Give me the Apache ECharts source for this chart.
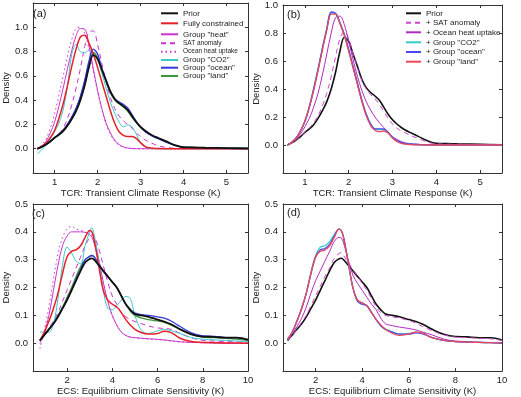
<!DOCTYPE html>
<html><head><meta charset="utf-8">
<script src="https://cdn.jsdelivr.net/npm/echarts@6/dist/echarts.min.js"></script>
<style>html,body{margin:0;padding:0;background:#fff}#c{width:521px;height:397px}</style>
</head><body><div id="c"></div>
<script>
// ---------- DATA ----------
const xT = [0.6,0.7,0.8,0.9,1.0,1.1,1.2,1.3,1.4,1.5,1.6,1.7,1.8,1.9,2.0,2.1,2.2,2.3,2.4,2.5,2.6,2.7,2.8,2.9,3.0,3.1,3.2,3.3,3.4,3.6,3.8,4.0,4.25,4.5,5.0,5.5];
const tcrPrior   = [0.0,0.015,0.035,0.06,0.09,0.115,0.145,0.19,0.245,0.31,0.40,0.52,0.67,0.77,0.74,0.65,0.56,0.47,0.41,0.375,0.35,0.32,0.27,0.22,0.18,0.15,0.125,0.105,0.09,0.06,0.03,0.012,0.01,0.008,0.005,0.002];
const tcrFull    = [0.0,0.02,0.045,0.09,0.15,0.25,0.37,0.52,0.68,0.82,0.92,0.935,0.87,0.78,0.67,0.55,0.43,0.31,0.21,0.14,0.11,0.10,0.10,0.085,0.05,0.02,0.008,0.003,0.001,0,0,0,0,0,0,0];
const tcrHeat    = [0.0,0.02,0.06,0.13,0.22,0.35,0.50,0.66,0.81,0.93,0.99,0.985,0.85,0.66,0.48,0.33,0.21,0.13,0.07,0.035,0.015,0.006,0.002,0,0,0,0,0,0,0,0,0,0,0,0,0];
const tcrSAT     = [0.0,0.012,0.03,0.055,0.085,0.12,0.17,0.25,0.36,0.50,0.66,0.84,0.96,0.97,0.86,0.70,0.55,0.42,0.33,0.27,0.23,0.20,0.17,0.13,0.10,0.075,0.055,0.04,0.025,0.01,0.004,0.002,0,0,0,0];
const tcrOHU     = [-0.01,0.03,0.08,0.17,0.29,0.44,0.60,0.76,0.90,0.99,1.0,0.95,0.82,0.64,0.47,0.32,0.20,0.12,0.06,0.03,0.012,0.004,0,0,0,0,0,0,0,0,0,0,0,0,0,0];
const tcrCO2     = [-0.04,-0.01,0.03,0.08,0.14,0.21,0.32,0.52,0.78,0.86,0.80,0.79,0.81,0.80,0.73,0.62,0.50,0.38,0.29,0.22,0.18,0.195,0.18,0.12,0.05,0.015,0.004,0,0,0,0,0,0,0,0,0];
const tcrOcean   = [0.0,0.015,0.035,0.06,0.09,0.12,0.15,0.2,0.26,0.33,0.43,0.56,0.72,0.82,0.78,0.66,0.56,0.47,0.41,0.385,0.365,0.335,0.28,0.225,0.18,0.145,0.12,0.1,0.085,0.055,0.028,0.011,0.009,0.007,0.004,0.002];
const tcrLand    = [0.0,0.015,0.035,0.06,0.09,0.12,0.155,0.2,0.26,0.33,0.42,0.55,0.70,0.79,0.75,0.65,0.55,0.46,0.40,0.37,0.345,0.31,0.26,0.215,0.175,0.145,0.12,0.1,0.085,0.055,0.028,0.011,0.009,0.007,0.004,0.002];
// panel (b): cumulative constraints
const tcrPlusSAT = [0.0,0.015,0.035,0.06,0.09,0.12,0.16,0.21,0.28,0.37,0.49,0.63,0.76,0.81,0.76,0.65,0.55,0.46,0.40,0.36,0.33,0.29,0.24,0.19,0.15,0.12,0.10,0.085,0.07,0.045,0.02,0.008,0.006,0.005,0.003,0.001];
const tcrPlusOHU = [0.0,0.02,0.045,0.08,0.13,0.19,0.27,0.37,0.50,0.65,0.80,0.91,0.92,0.86,0.74,0.61,0.49,0.39,0.31,0.25,0.20,0.16,0.125,0.09,0.06,0.04,0.025,0.015,0.01,0.005,0.002,0,0,0,0,0];
const tcrPlusCO2 = [0.0,0.02,0.05,0.10,0.17,0.27,0.40,0.54,0.69,0.83,0.945,0.94,0.875,0.79,0.68,0.56,0.44,0.32,0.22,0.15,0.115,0.11,0.11,0.09,0.055,0.03,0.018,0.01,0.006,0.003,0.001,0,0,0,0,0];
const tcrPlusOcn = [0.0,0.02,0.05,0.10,0.17,0.27,0.40,0.54,0.69,0.83,0.95,0.94,0.87,0.79,0.68,0.56,0.44,0.32,0.22,0.15,0.115,0.115,0.115,0.09,0.055,0.03,0.018,0.01,0.006,0.003,0.001,0,0,0,0,0];
const tcrPlusLnd = [0.0,0.02,0.05,0.10,0.17,0.27,0.39,0.53,0.68,0.82,0.935,0.935,0.87,0.78,0.67,0.55,0.43,0.31,0.21,0.14,0.105,0.095,0.10,0.085,0.05,0.025,0.012,0.006,0.003,0.001,0,0,0,0,0,0];

const xE = [0.8,1.0,1.2,1.4,1.6,1.8,2.0,2.2,2.4,2.6,2.8,3.0,3.1,3.2,3.4,3.6,3.8,4.0,4.2,4.4,4.6,4.8,5.0,5.3,5.6,6.0,6.3,6.6,7.0,7.5,8.0,8.5,9.0,9.5,10.0];
const ecsPrior   = [0.01,0.03,0.05,0.07,0.095,0.125,0.155,0.19,0.225,0.26,0.29,0.303,0.305,0.30,0.28,0.26,0.24,0.22,0.20,0.17,0.14,0.12,0.105,0.10,0.095,0.085,0.078,0.068,0.05,0.032,0.024,0.023,0.02,0.02,0.012];
const ecsFull    = [0.01,0.04,0.08,0.125,0.18,0.25,0.31,0.33,0.335,0.35,0.38,0.405,0.40,0.37,0.28,0.19,0.155,0.14,0.13,0.11,0.085,0.065,0.05,0.038,0.033,0.035,0.043,0.038,0.018,0.006,0.003,0.002,0.001,0.001,0.0];
const ecsHeat    = [0.0,0.04,0.10,0.19,0.28,0.35,0.385,0.40,0.40,0.40,0.398,0.39,0.38,0.36,0.30,0.22,0.15,0.10,0.065,0.04,0.028,0.022,0.02,0.018,0.016,0.014,0.012,0.009,0.005,0.003,0.002,0.001,0,0,0];
const ecsSAT     = [0.01,0.03,0.055,0.08,0.11,0.15,0.19,0.23,0.27,0.31,0.35,0.38,0.39,0.385,0.34,0.28,0.22,0.17,0.14,0.11,0.095,0.085,0.078,0.07,0.062,0.055,0.053,0.05,0.035,0.02,0.01,0.008,0.006,0.005,0.004];
const ecsOHU     = [-0.02,0.05,0.13,0.23,0.32,0.38,0.41,0.42,0.41,0.405,0.40,0.39,0.38,0.36,0.30,0.22,0.15,0.10,0.065,0.04,0.028,0.022,0.02,0.017,0.015,0.013,0.011,0.008,0.005,0.003,0.002,0.001,0,0,0];
const ecsCO2     = [0.04,0.04,0.04,0.07,0.16,0.28,0.345,0.325,0.295,0.285,0.35,0.40,0.415,0.39,0.30,0.19,0.125,0.12,0.135,0.155,0.168,0.16,0.10,0.045,0.035,0.045,0.05,0.045,0.035,0.02,0.015,0.012,0.01,0.008,0.006];
const ecsOcean   = [0.01,0.03,0.05,0.07,0.095,0.125,0.155,0.19,0.23,0.265,0.30,0.312,0.315,0.31,0.285,0.26,0.24,0.22,0.20,0.17,0.14,0.12,0.108,0.103,0.10,0.095,0.09,0.08,0.06,0.037,0.026,0.025,0.02,0.02,0.014];
const ecsLand    = [0.01,0.03,0.05,0.072,0.10,0.13,0.165,0.20,0.24,0.275,0.30,0.312,0.315,0.31,0.285,0.26,0.24,0.22,0.20,0.17,0.14,0.115,0.10,0.09,0.085,0.08,0.075,0.065,0.05,0.032,0.022,0.02,0.018,0.015,0.01];
// panel (d): cumulative constraints
const ecsPlusSAT = [0.01,0.03,0.05,0.075,0.10,0.135,0.17,0.205,0.24,0.27,0.305,0.322,0.325,0.315,0.29,0.265,0.24,0.215,0.19,0.16,0.13,0.11,0.10,0.095,0.09,0.082,0.072,0.06,0.045,0.03,0.022,0.02,0.018,0.016,0.01];
const ecsPlusOHU = [0.01,0.035,0.06,0.09,0.13,0.18,0.225,0.26,0.295,0.33,0.365,0.38,0.378,0.36,0.30,0.245,0.215,0.19,0.165,0.14,0.12,0.09,0.07,0.063,0.058,0.053,0.048,0.04,0.03,0.015,0.008,0.006,0.004,0.003,0.002];
const ecsPlusCO2 = [0.015,0.04,0.08,0.125,0.18,0.255,0.315,0.345,0.35,0.365,0.39,0.41,0.405,0.38,0.29,0.20,0.155,0.145,0.135,0.11,0.085,0.065,0.05,0.04,0.033,0.035,0.04,0.036,0.02,0.01,0.006,0.004,0.003,0.002,0.001];
const ecsPlusOcn = [0.015,0.04,0.08,0.125,0.18,0.25,0.31,0.335,0.34,0.355,0.385,0.41,0.405,0.38,0.29,0.20,0.15,0.14,0.135,0.11,0.085,0.062,0.05,0.04,0.033,0.033,0.037,0.034,0.02,0.01,0.006,0.004,0.003,0.002,0.001];
const ecsPlusLnd = [0.015,0.04,0.08,0.125,0.18,0.25,0.31,0.33,0.335,0.35,0.38,0.41,0.405,0.38,0.29,0.20,0.155,0.145,0.135,0.11,0.085,0.065,0.05,0.035,0.028,0.033,0.04,0.036,0.02,0.01,0.006,0.004,0.003,0.002,0.001];

const tcrTicks = [1,2,3,4,5];
const ecsTicks = [2,4,6,8,10];
const panelLabels = ['(a)','(b)','(c)','(d)'];
const tcrTitle = 'TCR: Transient Climate Response (K)';
const ecsTitle = 'ECS: Equilibrium Climate Sensitivity (K)';
const yName = 'Density';

// ---------- CHART ----------
const FONT = 'Liberation Sans, Arial, Helvetica, sans-serif';
const AX = '#333';
const pairs = (xs, ys) => xs.map((x, i) => [x, ys[i]]);

const grids = [
  {left: 30, top: 3, right: 273, bottom: 224},
  {left: 283, top: 3, right: 19, bottom: 224},
  {left: 30, top: 204, right: 273, bottom: 24},
  {left: 283, top: 204, right: 19, bottom: 24}
];
const xCfg = [
  {min: 0.5, max: 5.5, ticks: tcrTicks, title: tcrTitle},
  {min: 0.5, max: 5.5, ticks: tcrTicks, title: tcrTitle},
  {min: 0.5, max: 10, ticks: ecsTicks, title: ecsTitle},
  {min: 0.6, max: 10, ticks: ecsTicks, title: ecsTitle}
];
const yCfg = [
  {min: -0.2, max: 1.2, interval: 0.2, top: 1.0},
  {min: -0.2, max: 1.0, interval: 0.2, top: 1.0},
  {min: -0.1, max: 0.5, interval: 0.1, top: 0.5},
  {min: -0.1, max: 0.5, interval: 0.1, top: 0.5}
];

const xAxis = [], yAxis = [];
grids.forEach((g, i) => {
  const xc = xCfg[i], yc = yCfg[i];
  xAxis.push({
    type: 'value', gridIndex: i, position: 'bottom', min: xc.min, max: xc.max,
    axisLine: {show: true, onZero: false, lineStyle: {color: AX, width: 1}},
    axisTick: {show: true, inside: true, length: 3, customValues: xc.ticks, lineStyle: {color: AX}},
    axisLabel: {customValues: xc.ticks, color: '#222', fontSize: 9.5, fontFamily: FONT, margin: 4},
    splitLine: {show: false},
    name: xc.title, nameLocation: 'middle', nameGap: 13,
    nameTextStyle: {color: '#222', fontSize: 9.5, fontFamily: FONT, verticalAlign: 'top'}
  });
  xAxis.push({
    type: 'value', gridIndex: i, position: 'top', min: xc.min, max: xc.max,
    axisLine: {show: true, onZero: false, lineStyle: {color: AX, width: 1}},
    axisTick: {show: true, inside: true, length: 3, customValues: xc.ticks, lineStyle: {color: AX}},
    axisLabel: {show: false}, splitLine: {show: false}
  });
  yAxis.push({
    type: 'value', gridIndex: i, position: 'left', min: yc.min, max: yc.max, interval: yc.interval,
    axisLine: {show: true, onZero: false, lineStyle: {color: AX, width: 1}},
    axisTick: {show: true, inside: true, length: 3, lineStyle: {color: AX}},
    axisLabel: {color: '#222', fontSize: 9.5, fontFamily: FONT, margin: 5,
      formatter: v => (v < -1e-9 || v > yc.top + 1e-9) ? '' : v.toFixed(1)},
    splitLine: {show: false},
    name: yName, nameLocation: 'middle', nameGap: 20,
    nameTextStyle: {color: '#222', fontSize: 9.5, fontFamily: FONT}
  });
  yAxis.push({
    type: 'value', gridIndex: i, position: 'right', min: yc.min, max: yc.max, interval: yc.interval,
    axisLine: {show: true, onZero: false, lineStyle: {color: AX, width: 1}},
    axisTick: {show: true, inside: true, length: 3, lineStyle: {color: AX}},
    axisLabel: {show: false}, splitLine: {show: false}
  });
});

function line(name, panel, xs, ys, color, width, type, z) {
  return {
    type: 'line', name: name, xAxisIndex: panel * 2, yAxisIndex: panel * 2,
    data: pairs(xs, ys), smooth: 0.35, symbol: 'none', silent: true, z: z || 2,
    lineStyle: {color: color, width: width, type: type || 'solid'},
    itemStyle: {color: color}
  };
}

const C = {black: '#111111', red: '#e8202a', mag: '#cc33cc', cyan: '#3ec8c8', blue: '#3535e6', green: '#3a963a',
  bSAT: '#d045d0', bOHU: '#b22cc2', bCO2: '#33cccc', bOcn: '#4848f0', bLnd: '#f04858'};

const series = [
  // (a)
  line('Group "heat"', 0, xT, tcrHeat, C.mag, 1),
  line('SAT anomaly', 0, xT, tcrSAT, C.mag, 1, [5, 4]),
  line('Ocean heat uptake', 0, xT, tcrOHU, C.mag, 1, [1.5, 3]),
  line('Group "CO2"', 0, xT, tcrCO2, C.cyan, 1),
  line('Group "land"', 0, xT, tcrLand, C.green, 1.4),
  line('Group "ocean"', 0, xT, tcrOcean, C.blue, 1.4),
  line('Fully constrained', 0, xT, tcrFull, C.red, 1.5),
  line('Prior', 0, xT, tcrPrior, C.black, 1.8, 'solid', 3),
  // (b)
  line('Prior', 1, xT, tcrPrior, C.black, 1.6),
  line('+ SAT anomaly', 1, xT, tcrPlusSAT, C.bSAT, 1, [5, 4]),
  line('+ Ocean heat uptake', 1, xT, tcrPlusOHU, C.bOHU, 1),
  line('+ Group "CO2"', 1, xT, tcrPlusCO2, C.bCO2, 1.4),
  line('+ Group "ocean"', 1, xT, tcrPlusOcn, C.bOcn, 1.4),
  line('+ Group "land"', 1, xT, tcrPlusLnd, C.bLnd, 1.3, 'solid', 3),
  // (c)
  line('Group "heat"', 2, xE, ecsHeat, C.mag, 1),
  line('SAT anomaly', 2, xE, ecsSAT, C.mag, 1, [5, 4]),
  line('Ocean heat uptake', 2, xE, ecsOHU, C.mag, 1, [1.5, 3]),
  line('Group "CO2"', 2, xE, ecsCO2, C.cyan, 1),
  line('Group "land"', 2, xE, ecsLand, C.green, 1.3),
  line('Group "ocean"', 2, xE, ecsOcean, C.blue, 1.3),
  line('Fully constrained', 2, xE, ecsFull, C.red, 1.5),
  line('Prior', 2, xE, ecsPrior, C.black, 1.8, 'solid', 3),
  // (d)
  line('Prior', 3, xE, ecsPrior, C.black, 1.6),
  line('+ SAT anomaly', 3, xE, ecsPlusSAT, C.bSAT, 1, [5, 4]),
  line('+ Ocean heat uptake', 3, xE, ecsPlusOHU, C.bOHU, 1),
  line('+ Group "CO2"', 3, xE, ecsPlusCO2, C.bCO2, 1.3),
  line('+ Group "ocean"', 3, xE, ecsPlusOcn, C.bOcn, 1.3),
  line('+ Group "land"', 3, xE, ecsPlusLnd, C.bLnd, 1.3, 'solid', 3)
];

// legends: one component per entry for exact row placement
const legA = [
  ['Prior', 13.3, 8], ['Fully constrained', 23.3, 8], ['Group "heat"', 34.3, 8],
  ['SAT anomaly', 43.3, 6.5], ['Ocean heat uptake', 51.7, 6.5],
  ['Group "CO2"', 60, 8], ['Group "ocean"', 67.7, 8], ['Group "land"', 76, 8]
];
const legB = [
  ['Prior', 13.3], ['+ SAT anomaly', 22.7], ['+ Ocean heat uptake', 32.3],
  ['+ Group "CO2"', 42.3], ['+ Group "ocean"', 52], ['+ Group "land"', 61.7]
];
const legend = [];
legA.forEach(([n, cy, fs]) => legend.push({
  data: [n], left: 160, top: cy - 5, padding: 0, itemWidth: 17, itemHeight: 10,
  itemStyle: {opacity: 0},
  selectedMode: false, textStyle: {fontSize: fs, fontFamily: FONT, color: '#222', lineHeight: 10}
}));
legB.forEach(([n, cy]) => legend.push({
  data: [n], left: 405, top: cy - 5, padding: 0, itemWidth: 15, itemHeight: 10,
  itemStyle: {opacity: 0},
  selectedMode: false, textStyle: {fontSize: 8, fontFamily: FONT, color: '#222', lineHeight: 10}
}));

const labelPos = [[33, 14], [287, 15], [32, 214], [287, 213]];
const graphic = panelLabels.map((t, i) => ({
  type: 'text', left: labelPos[i][0], top: labelPos[i][1] - 6,
  style: {text: t, fontSize: 11, fontFamily: FONT, fill: '#222'}
}));

const chart = echarts.init(document.getElementById('c'), null, {renderer: 'canvas'});
chart.setOption({
  animation: false, backgroundColor: '#fff',
  grid: grids, xAxis: xAxis, yAxis: yAxis, series: series, legend: legend, graphic: graphic
});
</script></body></html>
